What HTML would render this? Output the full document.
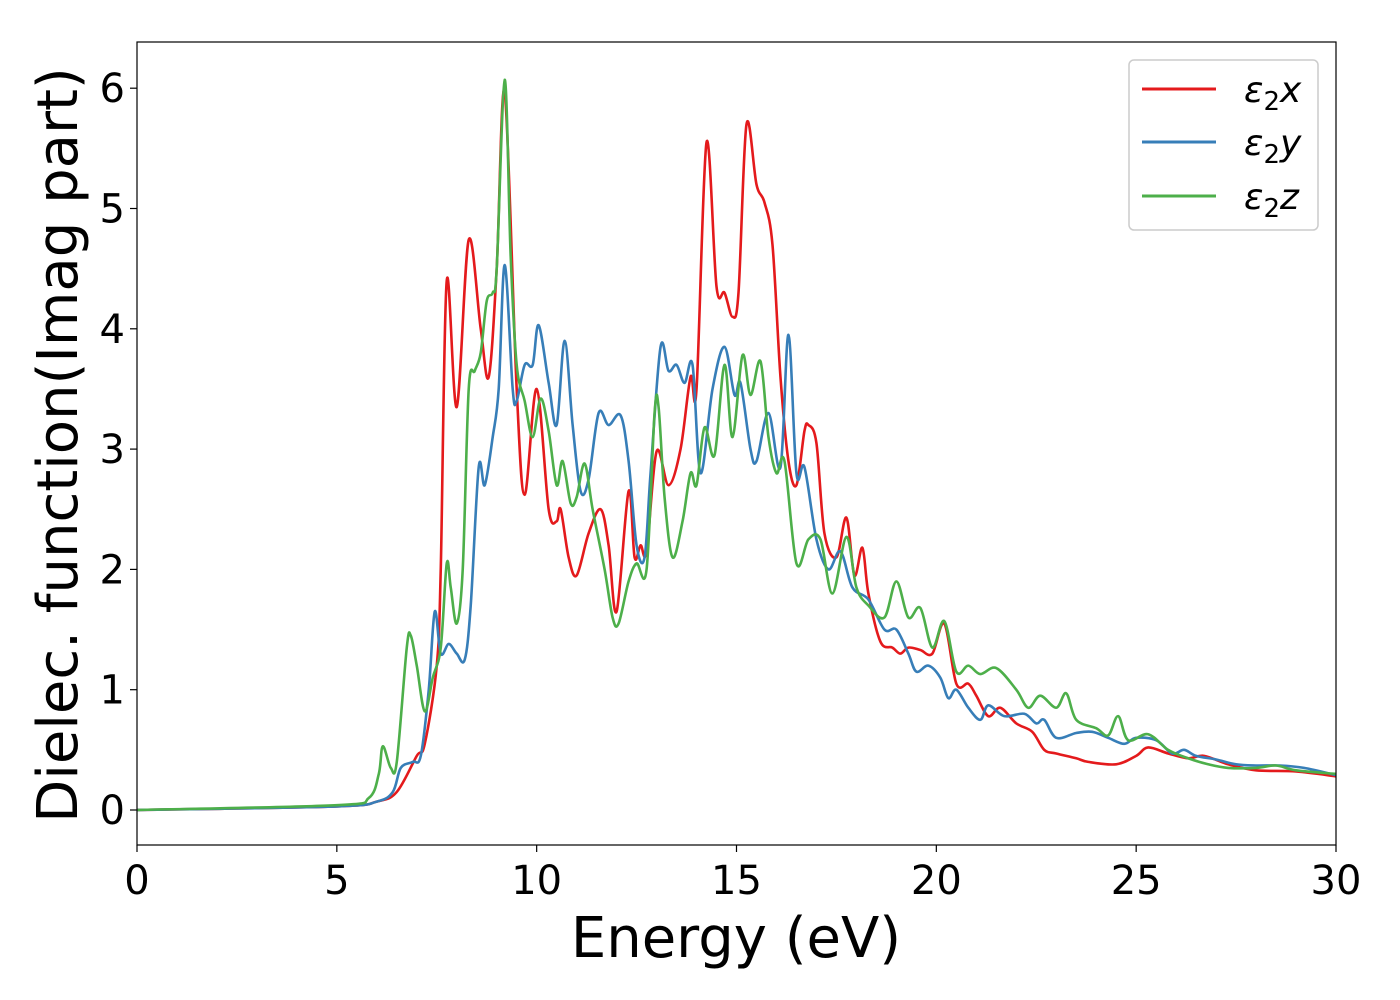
<!DOCTYPE html>
<html><head><meta charset="utf-8">
<style>
html,body{margin:0;padding:0;background:#fff;width:1400px;height:1000px;overflow:hidden}
text{font-family:"DejaVu Sans","Liberation Sans",sans-serif}
</style></head>
<body>
<svg id="chart" width="1400" height="1000" xmlns="http://www.w3.org/2000/svg">
<rect x="0" y="0" width="1400" height="1000" fill="#fff"/>
<g id="plot"></g>
<g id="axes"></g>
<text x="736" y="957" font-size="56" text-anchor="middle">Energy (eV)</text>
<text transform="translate(77,445) rotate(-90)" font-size="56" text-anchor="middle">Dielec. function(Imag part)</text>
<g>
<rect x="1129" y="60" width="189" height="170" rx="5" fill="#fff" stroke="#ccc" stroke-width="1.5"/>
<line x1="1142" y1="89" x2="1216" y2="89" stroke="#e41a1c" stroke-width="3"/>
<text x="1244" y="102" font-size="36" font-style="italic">ε<tspan font-style="normal" font-size="26" dy="8">2</tspan><tspan dy="-8">x</tspan></text>
<line x1="1142" y1="142" x2="1216" y2="142" stroke="#377eb8" stroke-width="3"/>
<text x="1244" y="155" font-size="36" font-style="italic">ε<tspan font-style="normal" font-size="26" dy="8">2</tspan><tspan dy="-8">y</tspan></text>
<line x1="1142" y1="196" x2="1216" y2="196" stroke="#4daf4a" stroke-width="3"/>
<text x="1244" y="209" font-size="36" font-style="italic">ε<tspan font-style="normal" font-size="26" dy="8">2</tspan><tspan dy="-8">z</tspan></text>
</g>
</svg>
<script>
const xTicks=[0,5,10,15,20,25,30];
const yTicks=[0,1,2,3,4,5,6];
const redE=[0,5,6,6.5,7,7.2,7.5,7.6,7.75,8,8.3,8.6,8.8,9,9.2,9.5,9.7,10,10.3,10.5,10.6,10.8,11,11.3,11.6,11.8,12,12.3,12.45,12.6,12.75,13,13.3,13.6,13.85,14,14.25,14.5,14.7,14.9,15.05,15.25,15.5,15.7,15.9,16.1,16.3,16.5,16.7,16.8,17,17.2,17.5,17.75,17.95,18.15,18.3,18.6,18.9,19.1,19.3,19.6,19.9,20.2,20.5,20.8,21,21.3,21.6,22,22.4,22.7,23,23.5,23.8,24.5,25,25.3,25.8,26.3,26.7,27.3,28,29,30];
const redV=[0,0.03,0.07,0.15,0.45,0.55,1.2,2.0,4.4,3.35,4.74,4.0,3.6,4.5,5.97,3.5,2.62,3.5,2.5,2.4,2.5,2.1,1.95,2.3,2.5,2.2,1.65,2.65,2.1,2.2,2.15,2.98,2.7,3.0,3.6,3.5,5.55,4.35,4.3,4.1,4.3,5.7,5.2,5.05,4.7,3.6,2.9,2.7,3.15,3.2,3.05,2.3,2.1,2.43,1.95,2.18,1.8,1.4,1.35,1.3,1.35,1.33,1.3,1.55,1.05,1.05,0.95,0.78,0.85,0.72,0.65,0.5,0.47,0.43,0.4,0.38,0.45,0.52,0.47,0.43,0.45,0.38,0.33,0.32,0.28];
const blueE=[0,5,6,6.4,6.6,6.9,7.1,7.3,7.45,7.6,7.8,8,8.2,8.35,8.55,8.7,8.9,9.05,9.2,9.4,9.5,9.7,9.9,10.05,10.3,10.5,10.7,10.9,11.1,11.3,11.55,11.8,12.1,12.3,12.5,12.7,12.85,13.1,13.3,13.5,13.7,13.9,14.1,14.4,14.7,14.95,15.1,15.35,15.5,15.8,16.1,16.3,16.5,16.7,17,17.3,17.6,17.9,18.3,18.7,19,19.3,19.5,19.8,20.1,20.3,20.5,20.8,21.1,21.3,21.7,22.2,22.5,22.7,23,23.5,23.9,24.3,24.7,25,25.5,25.9,26.2,26.5,27,27.5,28,28.6,29.2,30];
const blueV=[0,0.03,0.07,0.15,0.35,0.4,0.45,1.0,1.65,1.3,1.38,1.3,1.25,1.7,2.85,2.7,3.1,3.5,4.53,3.5,3.4,3.7,3.7,4.03,3.55,3.2,3.9,3.2,2.65,2.75,3.3,3.2,3.28,2.9,2.2,2.1,2.8,3.85,3.65,3.7,3.55,3.7,2.8,3.5,3.85,3.45,3.55,3.0,2.9,3.3,2.85,3.95,2.8,2.85,2.25,2.0,2.15,1.85,1.75,1.5,1.5,1.3,1.15,1.2,1.1,0.93,1.0,0.85,0.75,0.87,0.78,0.8,0.72,0.75,0.6,0.64,0.65,0.6,0.55,0.6,0.58,0.47,0.5,0.45,0.42,0.38,0.37,0.37,0.35,0.29];
const greenE=[0,5,5.8,6.05,6.15,6.35,6.5,6.75,6.85,7,7.2,7.4,7.6,7.75,7.85,8,8.15,8.3,8.45,8.6,8.75,8.9,9,9.2,9.35,9.5,9.7,9.9,10.1,10.3,10.5,10.65,10.85,11,11.2,11.4,11.7,11.9,12.05,12.3,12.5,12.75,12.95,13.05,13.2,13.4,13.65,13.85,14,14.2,14.45,14.7,14.9,15.15,15.35,15.6,15.8,16,16.2,16.5,16.8,17.1,17.4,17.75,18,18.3,18.7,19,19.3,19.6,19.9,20.2,20.5,20.8,21.1,21.5,22,22.3,22.6,23,23.25,23.5,24,24.3,24.55,24.8,25.3,25.8,26.3,26.8,27.3,28,28.5,29,30];
const greenV=[0,0.04,0.1,0.3,0.53,0.35,0.4,1.35,1.45,1.2,0.82,1.1,1.35,2.05,1.85,1.55,2.0,3.5,3.65,3.8,4.23,4.3,4.5,6.07,4.6,3.7,3.4,3.1,3.42,3.15,2.7,2.9,2.55,2.6,2.88,2.5,2.0,1.6,1.55,1.9,2.05,2.0,3.3,3.35,2.6,2.1,2.4,2.8,2.7,3.18,2.95,3.7,3.1,3.78,3.45,3.73,3.1,2.8,2.9,2.05,2.25,2.25,1.8,2.27,1.85,1.7,1.6,1.9,1.6,1.68,1.35,1.57,1.15,1.2,1.13,1.18,1.0,0.85,0.95,0.85,0.97,0.75,0.68,0.62,0.78,0.58,0.63,0.5,0.43,0.38,0.35,0.35,0.37,0.33,0.3];

const X0=137,X1=1336,YT=42,YB=845;
const xs=e=>X0+(e-0)/(30-0)*(X1-X0);
const ys=v=>810-v*120.3;
const NS="http://www.w3.org/2000/svg";
function mk(tag,attrs,parent){const el=document.createElementNS(NS,tag);for(const k in attrs)el.setAttribute(k,attrs[k]);parent.appendChild(el);return el;}
const plot=document.getElementById('plot'),axes=document.getElementById('axes');
const cp=mk('clipPath',{id:'clip'},plot);mk('rect',{x:X0,y:YT,width:X1-X0,height:YB-YT},cp);
function pathFor(E,V){
  const p=E.map((e,i)=>[xs(e),ys(V[i])]);
  let d=`M${p[0][0]},${p[0][1]}`;
  for(let i=0;i<p.length-1;i++){
    const p0=p[Math.max(0,i-1)],p1=p[i],p2=p[i+1],p3=p[Math.min(p.length-1,i+2)];
    const c1=[p1[0]+(p2[0]-p0[0])/6,p1[1]+(p2[1]-p0[1])/6];
    const c2=[p2[0]-(p3[0]-p1[0])/6,p2[1]-(p3[1]-p1[1])/6];
    d+=`C${c1[0]},${c1[1]} ${c2[0]},${c2[1]} ${p2[0]},${p2[1]}`;
  }
  return d;
}
const series=[[redE,redV,'#e41a1c','series-x'],[blueE,blueV,'#377eb8','series-y'],[greenE,greenV,'#4daf4a','series-z']];
series.forEach(s=>{
  const el=mk('path',{d:pathFor(s[0],s[1]),fill:'none',stroke:s[2],'stroke-width':2.6,'clip-path':'url(#clip)'},plot);
  
  
});
const frame=mk('rect',{x:X0,y:YT,width:X1-X0,height:YB-YT,fill:'none',stroke:'#000','stroke-width':1.2},axes);


xTicks.forEach(t=>{
  const tk=mk('line',{x1:xs(t),x2:xs(t),y1:YB,y2:YB+7,stroke:'#000','stroke-width':1.2},axes);
  
  
  const lb=mk('text',{x:xs(t),y:YB+49,'font-size':40,'text-anchor':'middle'},axes);lb.textContent=t;
  
  
});
yTicks.forEach(t=>{
  const tk=mk('line',{x1:X0-7,x2:X0,y1:ys(t),y2:ys(t),stroke:'#000','stroke-width':1.2},axes);
  
  
  const lb=mk('text',{x:X0-12,y:ys(t)+14,'font-size':40,'text-anchor':'end'},axes);lb.textContent=t;
  
  
});
</script>
</body></html>
